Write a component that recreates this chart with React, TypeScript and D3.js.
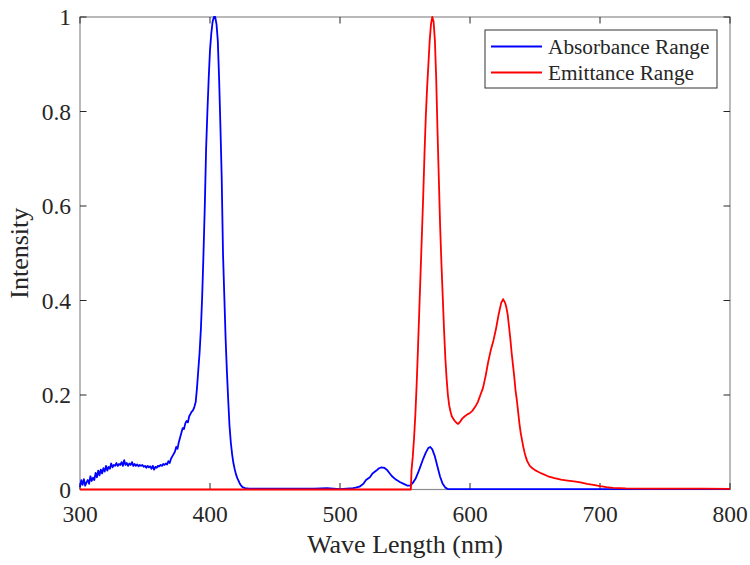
import React from "react";
import * as d3 from "d3";

const X_TICKS = [300, 400, 500, 600, 700, 800];
const Y_TICKS = [0, 0.2, 0.4, 0.6, 0.8, 1];
const Y_TICK_LABELS = ["0", "0.2", "0.4", "0.6", "0.8", "1"];
const X_LABEL = "Wave Length (nm)";
const Y_LABEL = "Intensity";
const SERIES_NAMES = ["Absorbance Range", "Emittance Range"];
const SERIES_COLORS = ["#0000ff", "#ff0000"];

// Absorbance: [wavelength nm, intensity]
const absorbance: [number, number][] = [
  [300, 0.005], [301, 0.02], [302, 0.01], [303, 0.022], [304, 0.008], [305, 0.015],
  [306, 0.02], [307, 0.012], [308, 0.028], [309, 0.018], [310, 0.025], [311, 0.02],
  [312, 0.035], [313, 0.026], [314, 0.04], [315, 0.03], [316, 0.042], [317, 0.034],
  [318, 0.045], [319, 0.038], [320, 0.05], [321, 0.04], [322, 0.048], [323, 0.044],
  [324, 0.055], [325, 0.047], [326, 0.052], [327, 0.05], [328, 0.056], [329, 0.05],
  [330, 0.054], [331, 0.052], [332, 0.058], [333, 0.05], [334, 0.062], [335, 0.052],
  [336, 0.056], [337, 0.05], [338, 0.055], [339, 0.052], [340, 0.058], [341, 0.05],
  [342, 0.054], [343, 0.05], [344, 0.053], [345, 0.049], [346, 0.052], [347, 0.05],
  [348, 0.052], [349, 0.048], [350, 0.05], [351, 0.046], [352, 0.05], [353, 0.047],
  [354, 0.049], [355, 0.044], [356, 0.05], [357, 0.042], [358, 0.048], [359, 0.046],
  [360, 0.05], [361, 0.049], [362, 0.052], [363, 0.05], [364, 0.054], [365, 0.052],
  [366, 0.055], [367, 0.053], [368, 0.06], [369, 0.056], [370, 0.065], [371, 0.07],
  [372, 0.075], [373, 0.08], [374, 0.09], [375, 0.086], [376, 0.1], [377, 0.11],
  [378, 0.12], [379, 0.13], [380, 0.128], [381, 0.14], [382, 0.145], [383, 0.142],
  [384, 0.155], [385, 0.16], [386, 0.165], [387, 0.168], [388, 0.175], [389, 0.185],
  [390, 0.215], [391, 0.253], [392, 0.29], [393, 0.34], [394, 0.41], [395, 0.5],
  [396, 0.6], [397, 0.72], [398, 0.8], [399, 0.87], [400, 0.93], [401, 0.965],
  [402, 0.99], [403, 1.0], [404, 1.0], [405, 0.985], [406, 0.95], [407, 0.87],
  [408, 0.77], [409, 0.66], [410, 0.5], [411, 0.41], [412, 0.32], [413, 0.25],
  [414, 0.19], [415, 0.135], [416, 0.1], [417, 0.075], [418, 0.056], [419, 0.043],
  [420, 0.032], [421, 0.024], [422, 0.018], [423, 0.012], [424, 0.008], [425, 0.005],
  [427, 0.003], [430, 0.002], [450, 0.002], [480, 0.002], [490, 0.003], [495, 0.002],
  [500, 0.001], [505, 0.002], [510, 0.003], [512, 0.004], [515, 0.006], [518, 0.012],
  [520, 0.02], [523, 0.026], [525, 0.034], [528, 0.04], [530, 0.045], [532, 0.047],
  [534, 0.046], [536, 0.042], [538, 0.035], [540, 0.028], [543, 0.021], [546, 0.016],
  [549, 0.012], [552, 0.008], [554, 0.008], [556, 0.014], [558, 0.022], [560, 0.035],
  [562, 0.05], [564, 0.065], [566, 0.078], [568, 0.088], [569.5, 0.09], [571, 0.085],
  [573, 0.07], [575, 0.048], [577, 0.027], [579, 0.012], [581, 0.004], [583, 0.001],
  [650, 0.001], [720, 0.001], [800, 0.001],
];

// Emittance: [wavelength nm, intensity]
const emittance: [number, number][] = [
  [300, 0], [554.5, 0], [555, 0.04], [556, 0.07], [557, 0.11], [558, 0.16], [559, 0.225],
  [560, 0.3], [561, 0.38], [562, 0.46], [563, 0.54], [564, 0.62], [565, 0.71],
  [566, 0.79], [567, 0.85], [568, 0.9], [569, 0.95], [570, 0.985], [571, 1.0],
  [572, 0.99], [573, 0.95], [574, 0.87], [575, 0.76], [576, 0.66], [577, 0.56],
  [578, 0.48], [579, 0.41], [580, 0.34], [581, 0.28], [582, 0.235], [583, 0.2],
  [584, 0.178], [585, 0.165], [586, 0.155], [588, 0.146], [590, 0.14], [591, 0.139],
  [592, 0.142], [594, 0.15], [596, 0.155], [598, 0.159], [600, 0.162], [602, 0.167],
  [604, 0.175], [606, 0.185], [608, 0.2], [610, 0.215], [612, 0.24], [614, 0.27],
  [616, 0.295], [618, 0.315], [620, 0.34], [622, 0.37], [624, 0.395], [625.5, 0.403],
  [627, 0.395], [628, 0.385], [629, 0.37], [630, 0.345], [631, 0.32], [632, 0.29],
  [633, 0.265], [634, 0.24], [635, 0.21], [636, 0.19], [637, 0.165], [638, 0.14],
  [639, 0.12], [640, 0.105], [641, 0.09], [642, 0.078], [643, 0.068], [644, 0.06],
  [646, 0.05], [648, 0.045], [650, 0.041], [652, 0.038], [655, 0.034], [660, 0.028],
  [665, 0.024], [670, 0.021], [675, 0.019], [680, 0.017], [685, 0.015], [690, 0.012],
  [695, 0.01], [700, 0.007], [705, 0.005], [710, 0.0035], [720, 0.0025], [740, 0.002],
  [760, 0.002], [780, 0.0018], [800, 0.0015],
];

const SERIES = [absorbance, emittance];

const W = 750;
const H = 565;
const M = { left: 80, right: 20, top: 17, bottom: 75.5 };
const FONT = "'Liberation Serif', 'Times New Roman', serif";
const TEXT = "#262626";
const BOX = "#8c8c8c";

export default function App() {
  const x = d3.scaleLinear().domain([300, 800]).range([M.left, W - M.right]);
  const y = d3.scaleLinear().domain([0, 1]).range([H - M.bottom, M.top]);
  const line = d3
    .line<[number, number]>()
    .x((d) => x(d[0]))
    .y((d) => y(d[1]));
  const x0 = x.range()[0];
  const x1 = x.range()[1];
  const y0 = y.range()[0];
  const y1 = y.range()[1];
  const tick = 6.5;

  return (
    <div style={{ position: "absolute", left: 0, top: 0 }}>
      <svg width={W} height={H} style={{ display: "block", background: "#fff" }} fontFamily={FONT}>
        <rect x={0} y={0} width={W} height={H} fill="#fff" />
        {/* box */}
        <rect x={x0} y={y1} width={x1 - x0} height={y0 - y1} fill="none" stroke={BOX} strokeWidth={1.2} />
        {/* x ticks */}
        {X_TICKS.map((t) => (
          <g key={"xt" + t}>
            <line x1={x(t)} x2={x(t)} y1={y0} y2={y0 - tick} stroke={TEXT} strokeWidth={1} />
            <line x1={x(t)} x2={x(t)} y1={y1} y2={y1 + tick} stroke={TEXT} strokeWidth={1} />
            <text x={x(t)} y={y0 + 32} textAnchor="middle" fontSize={23.5} fill={TEXT}>
              {t}
            </text>
          </g>
        ))}
        {/* y ticks */}
        {Y_TICKS.map((t, i) => (
          <g key={"yt" + t}>
            <line x1={x0} x2={x0 + tick} y1={y(t)} y2={y(t)} stroke={TEXT} strokeWidth={1} />
            <line x1={x1} x2={x1 - tick} y1={y(t)} y2={y(t)} stroke={TEXT} strokeWidth={1} />
            <text x={x0 - 9} y={y(t) + 8} textAnchor="end" fontSize={23.5} fill={TEXT}>
              {Y_TICK_LABELS[i]}
            </text>
          </g>
        ))}
        {/* series */}
        {SERIES.map((s, i) => (
          <path key={"s" + i} d={line(s) || ""} fill="none" stroke={SERIES_COLORS[i]} strokeWidth={1.8} strokeLinejoin="round" />
        ))}
        {/* axis labels */}
        <text x={(x0 + x1) / 2} y={553} textAnchor="middle" fontSize={26} fill={TEXT}>
          {X_LABEL}
        </text>
        <text
          transform={`translate(28,${(y0 + y1) / 2}) rotate(-90)`}
          textAnchor="middle"
          fontSize={26}
          fill={TEXT}
        >
          {Y_LABEL}
        </text>
        {/* legend */}
        <g>
          <rect x={485} y={30} width={232} height={58} fill="#fff" stroke="#333" strokeWidth={1} />
          {SERIES_NAMES.map((n, i) => (
            <g key={"lg" + i}>
              <line x1={491} x2={542} y1={46.5 + i * 26} y2={46.5 + i * 26} stroke={SERIES_COLORS[i]} strokeWidth={1.8} />
              <text x={548} y={46.5 + i * 26 + 7.5} fontSize={21.3} fill={TEXT}>
                {n}
              </text>
            </g>
          ))}
        </g>
      </svg>
    </div>
  );
}
